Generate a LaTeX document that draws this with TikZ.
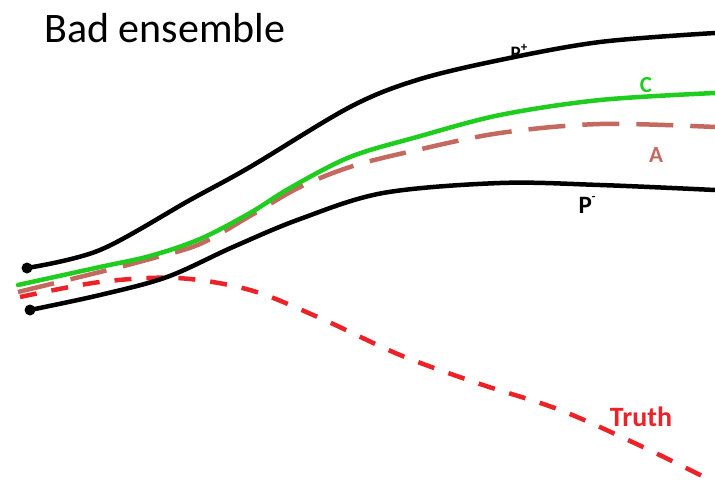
\documentclass[tikz,border=0pt]{standalone}
\usepackage{fontspec}
\setmainfont{Carlito}
\begin{document}
\begin{tikzpicture}[x=1pt,y=-1pt,
  curve/.style={line width=4.5pt, line cap=round},
  blackc/.style={curve, black},
  greenc/.style={curve, cgreen},
  ac/.style={line width=4.5pt, cA, dash pattern=on 37pt off 17pt},
  truthc/.style={line width=4.5pt, cT, dash pattern=on 17pt off 15pt},
  dot/.style={circle, fill=black, inner sep=0pt, minimum size=11pt},
  lbl/.style={font=\bfseries\fontsize{23}{26}\selectfont, inner sep=0pt}]
\definecolor{cgreen}{RGB}{30,205,30}
\definecolor{cA}{RGB}{195,105,95}
\definecolor{cT}{RGB}{235,35,40}
\useasboundingbox (0,0) rectangle (715,485);
\node[anchor=base west, font=\fontsize{42}{48}\selectfont, inner sep=0pt] (title) at (44,42) {Bad ensemble};
% Truth
\draw[truthc] plot[smooth, tension=0.55] coordinates {(20,297) (100,282) (177,278) (250,290) (320,318) (400,355) (480,384) (560,410) (643,447) (710,480)};
% A
\draw[ac] plot[smooth, tension=0.55] coordinates {(18,292) (100,272) (150,259) (200,244) (250,216) (300,187) (353,166) (417,150) (500,133) (600,124) (715,127)};
% C
\draw[greenc] plot[smooth, tension=0.55] coordinates {(18,285) (100,267) (150,256) (200,239) (250,213) (290,188) (350,157) (417,137) (500,115) (600,100) (715,93)};
% P+
\node[dot] (pp) at (27,268) {};
\draw[blackc] plot[smooth, tension=0.55] coordinates {(27,268) (100,250) (190,200) (250,167) (350,107) (417,80) (500,60) (600,42) (715,33)};
% P-
\node[dot] (pm) at (30,310) {};
\draw[blackc] plot[smooth, tension=0.55] coordinates {(30,310) (100,295) (167,277) (233,247) (300,219) (383,193) (500,183) (600,185) (715,190)};
\node[lbl, font=\bfseries\fontsize{19}{22}\selectfont] (lpp) at (519,52) {P\raisebox{0.4em}{\fontsize{13}{13}\selectfont +}};
\node[lbl, text=cgreen] (lc) at (646,85) {C};
\node[lbl, text=cA] (la) at (656,155) {A};
\node[lbl, font=\bfseries\fontsize{25}{28}\selectfont] (lpm) at (587,205) {P\raisebox{0.5em}{\fontsize{12}{12}\selectfont -}};
\node[lbl, text=cT, font=\bfseries\fontsize{28}{30}\selectfont] (lt) at (641,417) {Truth};
\end{tikzpicture}
\end{document}
